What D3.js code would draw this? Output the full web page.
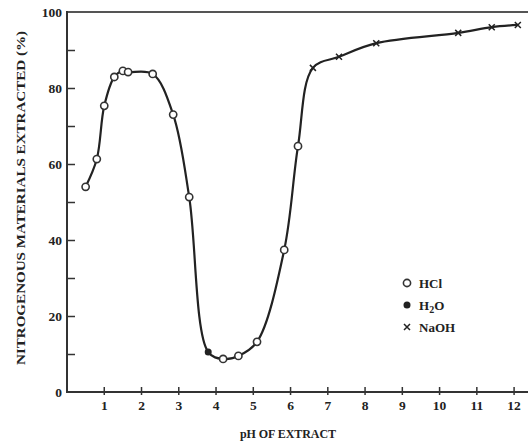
<!DOCTYPE html>
<html>
<head>
<meta charset="utf-8">
<script src="https://cdn.jsdelivr.net/npm/d3@7"></script>
<style>
  body { margin: 0; background: #fff; }
  text { font-family: "Liberation Serif", "DejaVu Serif", serif; font-weight: bold; fill: #222; }
</style>
</head>
<body>
<div id="chart"></div>
<script>
// Values
const hclPH  = [0.5, 0.8, 1.0, 1.27, 1.5, 1.64, 2.3, 2.85, 3.28, 4.19, 4.6, 5.1, 5.83, 6.2];
const hclVal = [54, 61.3, 75.3, 82.9, 84.5, 84.2, 83.7, 73, 51.3, 8.7, 9.5, 13.2, 37.4, 64.7];
const h2oPH  = [3.79];
const h2oVal = [10.5];
const naohPH  = [6.6, 7.3, 8.3, 10.5, 11.4, 12.1];
const naohVal = [85.3, 88.2, 91.8, 94.5, 96, 96.6];
const xTicks = [1, 2, 3, 4, 5, 6, 7, 8, 9, 10, 11, 12];
const yTicks = [0, 20, 40, 60, 80, 100];
const yMinor = [10, 30, 50, 70, 90];

const width = 528, height = 444;
const margin = { top: 12, right: 0, bottom: 52, left: 67 };

const x = d3.scaleLinear().domain([0, 12.4]).range([margin.left, width - margin.right + 1]);
const y = d3.scaleLinear().domain([0, 100]).range([height - margin.bottom, margin.top]);

const svg = d3.select("#chart").append("svg")
  .attr("width", width)
  .attr("height", height);

// Combine all series into one curve, sorted by pH
const zip = (a, b, s) => a.map((d, i) => ({ ph: d, v: b[i], s: s }));
const hcl = zip(hclPH, hclVal, "hcl");
const h2o = zip(h2oPH, h2oVal, "h2o");
const naoh = zip(naohPH, naohVal, "naoh");
const all = hcl.concat(h2o, naoh).sort((a, b) => a.ph - b.ph);

// Frame: top line
svg.append("line")
  .attr("x1", x(0)).attr("x2", width)
  .attr("y1", y(100)).attr("y2", y(100))
  .attr("stroke", "#555").attr("stroke-width", 2);

// Y axis, ticks point inward
const yAxis = svg.append("g")
  .attr("transform", "translate(" + x(0) + ",0)")
  .call(d3.axisRight(y).tickValues(yTicks.concat(yMinor).filter(d => d > 0 && d < 100)).tickSize(8).tickFormat(""));
yAxis.select(".domain").remove();
yAxis.selectAll("line").attr("stroke", "#333").attr("stroke-width", 1.5);
svg.append("line")
  .attr("x1", x(0)).attr("x2", x(0))
  .attr("y1", y(100) - 1).attr("y2", y(0) + 1)
  .attr("stroke", "#333").attr("stroke-width", 2);

svg.selectAll(".ylab")
  .data(yTicks)
  .enter().append("text")
    .attr("class", "ylab")
    .attr("x", x(0) - 5)
    .attr("y", d => y(d) + 5)
    .attr("text-anchor", "end")
    .style("font-size", "13.5px")
    .text(d => d);

// X axis
svg.append("line")
  .attr("x1", x(0)).attr("x2", width)
  .attr("y1", y(0)).attr("y2", y(0))
  .attr("stroke", "#333").attr("stroke-width", 2);
svg.selectAll(".xtick")
  .data(xTicks)
  .enter().append("line")
    .attr("class", "xtick")
    .attr("x1", d => x(d)).attr("x2", d => x(d))
    .attr("y1", y(0) - 5).attr("y2", y(0) + 3)
    .attr("stroke", "#333").attr("stroke-width", 1.5);
svg.selectAll(".xlab")
  .data(xTicks)
  .enter().append("text")
    .attr("class", "xlab")
    .attr("x", d => x(d))
    .attr("y", y(0) + 18)
    .attr("text-anchor", "middle")
    .style("font-size", "13.5px")
    .text(d => d);

// Axis titles
svg.append("text")
  .attr("x", 288).attr("y", 438)
  .attr("text-anchor", "middle")
  .style("font-size", "12px")
  .attr("textLength", 96)
  .text("pH OF EXTRACT");
svg.append("text")
  .attr("transform", "translate(25," + 198 + ") rotate(-90)")
  .attr("text-anchor", "middle")
  .style("font-size", "12.5px")
  .attr("textLength", 334)
  .attr("lengthAdjust", "spacingAndGlyphs")
  .text("NITROGENOUS MATERIALS EXTRACTED (%)");

// Curve
const line = d3.line()
  .x(d => x(d.ph))
  .y(d => y(d.v))
  .curve(d3.curveCatmullRom.alpha(0.5));
svg.append("path")
  .datum(all)
  .attr("fill", "none")
  .attr("stroke", "#222")
  .attr("stroke-width", 2.2)
  .attr("d", line);

// Markers
function drawCircle(g, cx, cy) {
  g.append("circle").attr("cx", cx).attr("cy", cy).attr("r", 3.6)
    .attr("fill", "#fff").attr("stroke", "#333").attr("stroke-width", 1.6);
}
function drawDot(g, cx, cy) {
  g.append("circle").attr("cx", cx).attr("cy", cy).attr("r", 3.5).attr("fill", "#222");
}
function drawCross(g, cx, cy) {
  g.append("path")
    .attr("d", "M" + (cx - 3) + "," + (cy - 3) + "L" + (cx + 3) + "," + (cy + 3) +
               "M" + (cx + 3) + "," + (cy - 3) + "L" + (cx - 3) + "," + (cy + 3))
    .attr("stroke", "#222").attr("stroke-width", 1.5);
}
const marks = svg.append("g");
hcl.forEach(d => drawCircle(marks, x(d.ph), y(d.v)));
h2o.forEach(d => drawDot(marks, x(d.ph), y(d.v)));
naoh.forEach(d => drawCross(marks, x(d.ph), y(d.v)));

// Legend
const legend = svg.append("g").attr("transform", "translate(407,283)");
drawCircle(legend, 0, 0);
drawDot(legend, 0, 22);
drawCross(legend, 0, 44);
legend.append("text").attr("x", 12).attr("y", 5).style("font-size", "13px").text("HCl");
const t2 = legend.append("text").attr("x", 12).attr("y", 27).style("font-size", "13px");
t2.append("tspan").text("H");
t2.append("tspan").attr("dy", 3).style("font-size", "10px").text("2");
t2.append("tspan").attr("dy", -3).text("O");
legend.append("text").attr("x", 12).attr("y", 49).style("font-size", "13px").text("NaOH");
</script>
</body>
</html>
